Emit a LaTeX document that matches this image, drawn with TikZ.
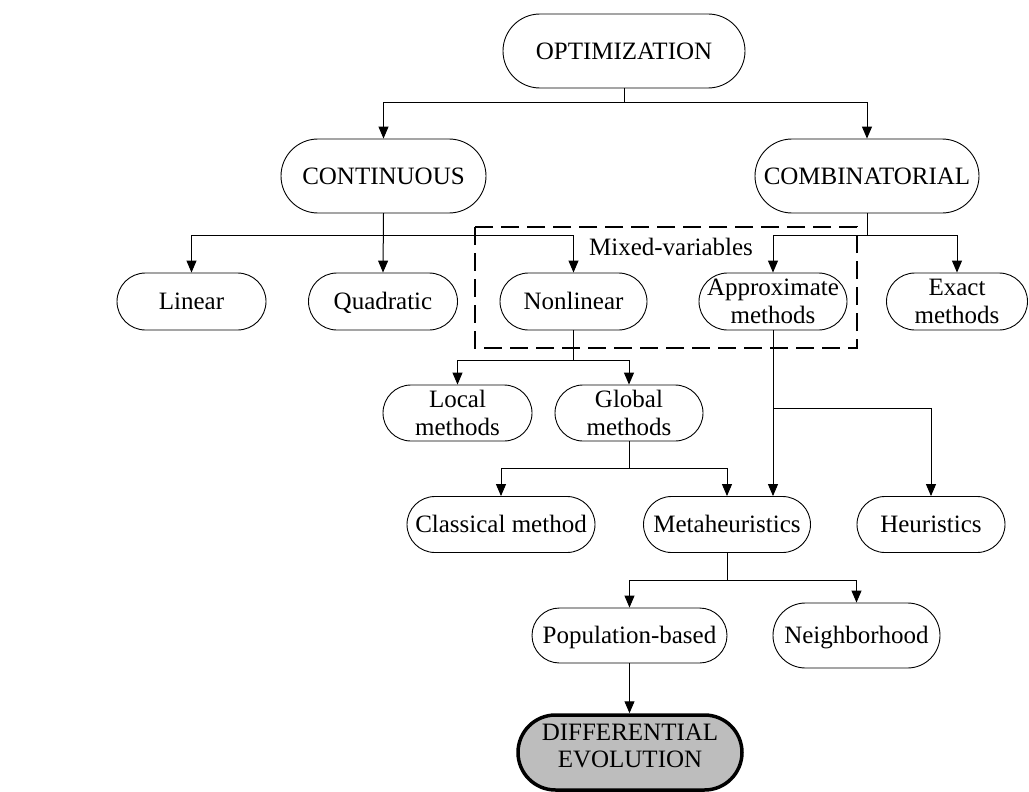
\documentclass[tikz,border=0pt]{standalone}
\usepackage{fontspec}
\setmainfont{Liberation Serif}
\usetikzlibrary{arrows.meta}
\begin{document}
\begin{tikzpicture}[x=1pt,y=-1pt,
  every node/.style={font=\fontsize{25}{27.5}\selectfont, inner sep=0pt, align=center},
  pill/.style 2 args={draw, line width=0.9pt, rectangle, minimum width=#1, minimum height=#2, rounded corners={#2/2}},
  oneline/.style={text height=16.6pt, text depth=0pt},
  link/.style={line width=1pt},
  arr/.style={link, -{Triangle[length=12pt,width=10pt]}},
  groupbox/.style={draw, line width=2.6pt, dash pattern=on 18pt off 8pt},
  final/.style={fill=black!26, line width=3.5pt}
]
\useasboundingbox[fill=white] (0,0) rectangle (1029,792);

% top levels
\node[pill={242pt}{74pt}, oneline] (opt)  at (624,51)    {OPTIMIZATION};
\node[pill={205pt}{74pt}, oneline] (cont) at (383.5,176) {CONTINUOUS};
\node[pill={224pt}{74pt}, oneline] (comb) at (867,176)   {COMBINATORIAL};

% problem classes
\node[pill={149pt}{57pt}, oneline] (lin)   at (191.5,301.5) {Linear};
\node[pill={149pt}{57pt}, oneline] (quad)  at (383,301.5)   {Quadratic};
\node[pill={147pt}{57pt}, oneline] (nonl)  at (573.5,301.5) {Nonlinear};
\node[pill={148pt}{57pt}]          (appr)  at (773,301.5)   {Approximate\\methods};
\node[pill={141pt}{57pt}]          (exact) at (957,301.5)   {Exact\\methods};

% mixed-variables group
\coordinate (mixTL) at (475,227);
\coordinate (mixBR) at (857,348);
\draw[groupbox] (mixTL) rectangle (mixBR);
\node[oneline] (mix) at (671,247) {Mixed-variables};

% method families
\node[pill={149pt}{56pt}] (local)  at (457.5,413) {Local\\methods};
\node[pill={148pt}{56pt}] (global) at (629,413)   {Global\\methods};

\node[pill={188pt}{56pt}, oneline] (class) at (501,524.5) {Classical method};
\node[pill={167pt}{56pt}, oneline] (meta)  at (727,524.5) {Metaheuristics};
\node[pill={148pt}{56pt}, oneline] (heur)  at (931,524.5) {Heuristics};

\node[pill={195pt}{55pt}, oneline] (pop)   at (629.5,635.5) {Population-based};
\node[pill={167pt}{65pt}, oneline] (neigh) at (856.5,635.5) {Neighborhood};

\node[pill={224pt}{75pt}, final, text depth=14pt] (de) at (630,752.5) {DIFFERENTIAL\\EVOLUTION};

% connectors
\draw[arr] (opt.south) -- (opt.south |- 0,103) -| (cont.north);
\draw[arr] (opt.south) -- (opt.south |- 0,103) -| (comb.north);

\draw[arr] (cont.south) -- (cont.south |- 0,235) -| (lin.north);
\draw[arr] (cont.south) -- (quad.north);
\draw[arr] (cont.south) -- (cont.south |- 0,235) -| (nonl.north);

\draw[arr] (comb.south) -- (comb.south |- 0,235) -| (appr.north);
\draw[arr] (comb.south) -- (comb.south |- 0,235) -| (exact.north);

\draw[arr] (nonl.south) -- (nonl.south |- 0,360) -| (local.north);
\draw[arr] (nonl.south) -- (nonl.south |- 0,360) -| (global.north);

\draw[arr] (global.south) -- (global.south |- 0,468) -| (class.north);
\draw[arr] (global.south) -- (global.south |- 0,468) -| (meta.north);

\draw[arr] (appr.south) -- (appr.south |- meta.north);
\draw[arr] (appr.south) -- (appr.south |- 0,408) -| (heur.north);

\draw[arr] (meta.south) -- (meta.south |- 0,580) -| (pop.north);
\draw[arr] (meta.south) -- (meta.south |- 0,580) -| (neigh.north);

\draw[arr] (pop.south) -- (pop.south |- de.north);
\end{tikzpicture}
\end{document}
